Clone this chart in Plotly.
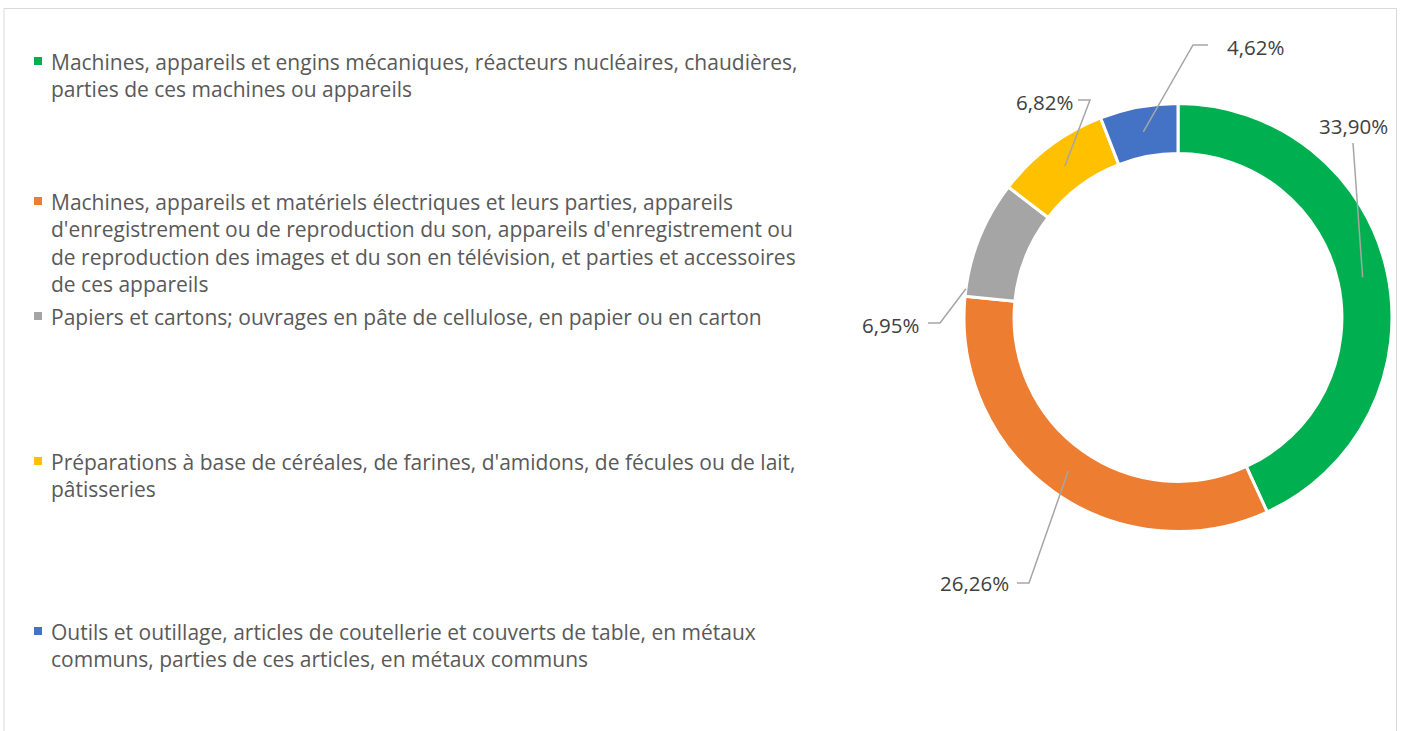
import math
import plotly.graph_objects as go

# ---- data ----
categories = [
    "Machines, appareils et engins mécaniques, réacteurs nucléaires, chaudières,<br>parties de ces machines ou appareils",
    "Machines, appareils et matériels électriques et leurs parties, appareils<br>d'enregistrement ou de reproduction du son, appareils d'enregistrement ou<br>de reproduction des images et du son en télévision, et parties et accessoires<br>de ces appareils",
    "Papiers et cartons; ouvrages en pâte de cellulose, en papier ou en carton",
    "Préparations à base de céréales, de farines, d'amidons, de fécules ou de lait,<br>pâtisseries",
    "Outils et outillage, articles de coutellerie et couverts de table, en métaux<br>communs, parties de ces articles, en métaux communs",
]
shares = [33.90, 26.26, 6.95, 6.82, 4.62]
colors = ["#00B050", "#ED7D31", "#A5A5A5", "#FFC000", "#4472C4"]

# ---- layout geometry (pixels) ----
W, H = 1402, 731
CX, CY, R_OUT = 1178, 317.5, 214
HOLE = 0.766
R_IN = R_OUT * HOLE
R_MID = (R_OUT + R_IN) / 2
FONT = "'Open Sans', Lato, sans-serif"
LEG_SIZE = 21

def px(x):
    return x / W

def py(y):
    return 1 - y / H

labels_txt = [f"{v:.2f}".replace(".", ",") + "%" for v in shares]

fig = go.Figure()
fig.add_trace(go.Pie(
    labels=[c.replace("<br>", " ") for c in categories],
    values=shares,
    sort=False,
    direction="clockwise",
    rotation=0,
    hole=HOLE,
    marker=dict(colors=colors, line=dict(color="white", width=3)),
    textinfo="none",
    hoverinfo="label+text",
    hovertext=labels_txt,
    showlegend=False,
    domain=dict(x=[px(CX - R_OUT), px(CX + R_OUT)], y=[py(CY + R_OUT), py(CY - R_OUT)]),
))

shapes = []
annotations = []

# chart border
shapes.append(dict(type="rect", xref="paper", yref="paper",
                   x0=px(4), x1=px(1396.5), y0=py(745), y1=py(8.5),
                   line=dict(color="#D9D9D9", width=1), fillcolor="rgba(0,0,0,0)"))

# legend (text + colour squares)
legend_first_line_y = [60, 200, 315, 460, 630]
line_h = 1.3 * LEG_SIZE
for cat, col, y in zip(categories, colors, legend_first_line_y):
    shapes.append(dict(type="rect", xref="paper", yref="paper",
                       x0=px(34), x1=px(42), y0=py(y + 5), y1=py(y - 3),
                       line=dict(width=0), fillcolor=col))
    annotations.append(dict(
        text=cat, xref="paper", yref="paper", x=px(50), y=py(y - line_h / 2 + 1),
        xanchor="left", yanchor="top", align="left", showarrow=False,
        borderpad=0,
        font=dict(family=FONT, size=LEG_SIZE, color="#595959"),
    ))

# data labels with leader lines
total = sum(shares)
angles = []
acc = 0
for v in shares:
    start = acc / total * 360
    acc += v
    end = acc / total * 360
    angles.append((start, end))

def ring_point(angle_deg, r):
    a = math.radians(angle_deg)
    return CX + r * math.sin(a), CY - r * math.cos(a)

# label centre positions and elbow points (placement only)
label_pos = [(1353, 126), (974, 583), (891, 325), (1044, 102), (1255, 47)]
elbows = [
    [(1353, 143)],
    [(1017, 583), (1029, 583)],
    [(928, 323), (940, 323)],
    [(1078, 100), (1090, 100)],
    [(1208, 45), (1193, 45)],
]
anchor_rule = ["mid", "mid", "edge", "mid", "mid"]

for i, (txt, pos) in enumerate(zip(labels_txt, label_pos)):
    s, e = angles[i]
    if anchor_rule[i] == "mid":
        ax, ay = ring_point((s + e) / 2, R_MID)
    else:
        ax, ay = ring_point(s + 2, R_OUT)
    pts = elbows[i] + [(ax, ay)]
    path = "M " + " L ".join(f"{px(x)},{py(y)}" for x, y in pts)
    shapes.append(dict(type="path", xref="paper", yref="paper", path=path,
                       line=dict(color="#A6A6A6", width=1.5)))
    annotations.append(dict(
        text=txt, xref="paper", yref="paper", x=px(pos[0]), y=py(pos[1]),
        xanchor="center", yanchor="middle", showarrow=False,
        font=dict(family=FONT, size=20.5, color="#404040"),
    ))

fig.update_layout(
    width=W, height=H,
    margin=dict(l=0, r=0, t=0, b=0),
    paper_bgcolor="white", plot_bgcolor="white",
    shapes=shapes, annotations=annotations,
)

fig.write_html("out.html", config={"displayModeBar": False},
               post_script="document.body.style.margin='0';document.body.style.overflow='hidden';")
